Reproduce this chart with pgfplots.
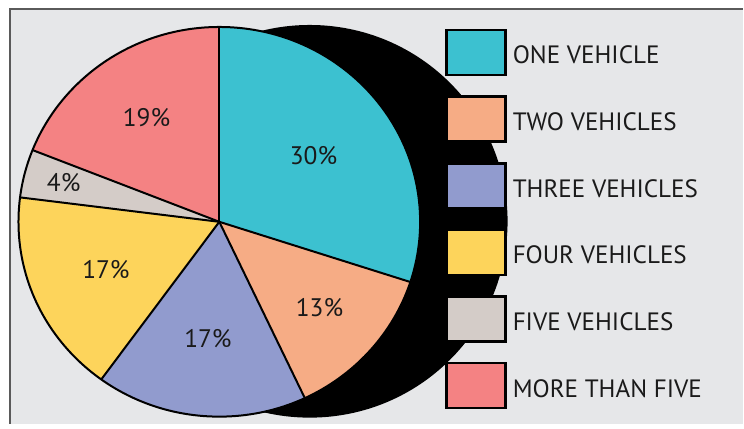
\documentclass[border=0pt]{standalone}
\usepackage{pgfplots}
\pgfplotsset{compat=1.18}
\usepackage{pgfplotstable}
\usepackage{fontspec}
\setmainfont{PT Sans}

\definecolor{bg}{HTML}{E6E7E9}
\definecolor{frame}{HTML}{5A5A5A}
\definecolor{txt}{HTML}{1A1A1A}
\definecolor{cOne}{HTML}{3CC1D0}
\definecolor{cTwo}{HTML}{F6AC85}
\definecolor{cThree}{HTML}{919BCE}
\definecolor{cFour}{HTML}{FDD45B}
\definecolor{cFive}{HTML}{D4CCC8}
\definecolor{cMore}{HTML}{F48283}

% share of households, label radius as fraction of the pie radius
\pgfplotstableread[col sep=comma]{
name,value,col,lr
ONE VEHICLE,30,cOne,0.58
TWO VEHICLES,13,cTwo,0.665
THREE VEHICLES,17,cThree,0.60
FOUR VEHICLES,17,cFour,0.615
FIVE VEHICLES,4,cFive,0.80
MORE THAN FIVE,19,cMore,0.645
}\piedata

\begin{document}
\begin{tikzpicture}
\begin{axis}[
    x=1bp, y=1bp, scale only axis, hide axis,
    xmin=0, xmax=744, ymin=0, ymax=424,
    clip=false,
  ]
  \fill[white] (axis cs:0,0) rectangle (axis cs:744,424);
  \fill[bg] (axis cs:10,0) rectangle (axis cs:744,415);
  \draw[frame, line width=1.3bp] (axis cs:10,0) -- (axis cs:10,415) -- (axis cs:744,415);
  % shadow
  \fill[black] (axis cs:310,202.5) ellipse [x radius=198bp, y radius=196.5bp];

  \def\cx{219.5}\def\cy{202}\def\rx{201}\def\ry{195}
  \gdef\astart{90}
  \pgfplotsinvokeforeach{0,...,5}{%
    \pgfplotstablegetelem{#1}{value}\of\piedata \let\pv\pgfplotsretval
    \pgfplotstablegetelem{#1}{col}\of\piedata \let\pc\pgfplotsretval
    \pgfplotstablegetelem{#1}{lr}\of\piedata \let\plr\pgfplotsretval
    \pgfplotstablegetelem{#1}{name}\of\piedata \let\pn\pgfplotsretval
    \pgfmathsetmacro\aend{\astart-3.6*\pv}
    \pgfmathsetmacro\amid{(\astart+\aend)/2}
    \pgfmathsetmacro\lx{\cx+\plr*\rx*cos(\amid)}
    \pgfmathsetmacro\ly{\cy+\plr*\ry*sin(\amid)}
    \pgfmathsetmacro\sx{\cx+\rx*cos(\astart)}
    \pgfmathsetmacro\sy{\cy+\ry*sin(\astart)}
    \pgfmathsetmacro\btop{424-30-66.7*#1}
    \pgfmathsetmacro\bbot{\btop-45}
    \pgfmathsetmacro\tbase{424-64-66.7*#1}
    \edef\temp{%
      \noexpand\fill[fill=\pc] (axis cs:\cx,\cy) -- (axis cs:\sx,\sy)
        arc[start angle=\astart, end angle=\aend, x radius=\rx bp, y radius=\ry bp] -- cycle;
      \noexpand\draw[line width=2bp] (axis cs:\cx,\cy) -- (axis cs:\sx,\sy);
      \noexpand\node[txt, inner sep=0pt, font=\noexpand\fontsize{25.5}{29}\noexpand\selectfont]
        at (axis cs:\lx,\ly) {\pv\noexpand\%};
      \noexpand\filldraw[fill=\pc, draw=black, line width=2.5bp]
        (axis cs:447,\btop) rectangle (axis cs:506,\bbot);
      \noexpand\node[txt, anchor=base west, inner sep=0pt, font=\noexpand\fontsize{25.2}{29}\noexpand\selectfont]
        at (axis cs:513,\tbase) {\pn};
    }\temp
    \global\let\astart\aend
  }
  \draw[line width=2bp] (axis cs:\cx,\cy) -- (axis cs:\cx,397);
  \draw[line width=2bp] (axis cs:\cx,\cy) ellipse [x radius=\rx bp, y radius=\ry bp];
\end{axis}
\end{tikzpicture}
\end{document}
